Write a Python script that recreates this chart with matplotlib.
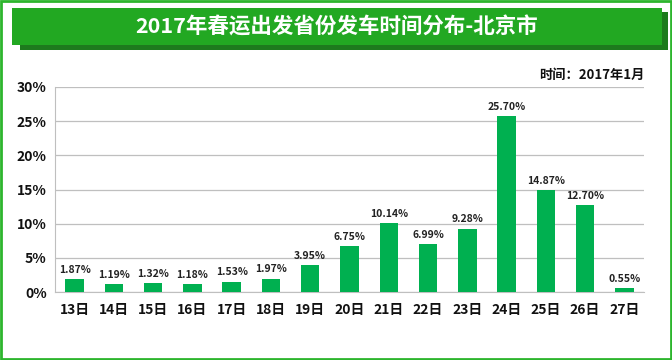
import matplotlib.pyplot as plt
from matplotlib.patches import Rectangle
from matplotlib.ticker import FuncFormatter

plt.rcParams['font.family'] = ['Noto Sans CJK SC', 'DejaVu Sans']

days = ['13日', '14日', '15日', '16日', '17日', '18日', '19日', '20日',
        '21日', '22日', '23日', '24日', '25日', '26日', '27日']
share = [1.87, 1.19, 1.32, 1.18, 1.53, 1.97, 3.95, 6.75,
         10.14, 6.99, 9.28, 25.70, 14.87, 12.70, 0.55]

fig = plt.figure(figsize=(6.72, 3.6), dpi=100)

# outer green frame
fig.patches.append(Rectangle((0.002, 0.003), 0.996, 0.994, transform=fig.transFigure,
                             fill=False, edgecolor='#2DB52D', linewidth=2))

# title banner with shadow
fig.patches.append(Rectangle((20 / 672, 1 - 50 / 360), 648 / 672, 38 / 360,
                             transform=fig.transFigure, facecolor='#1D7A1D', edgecolor='none'))
fig.patches.append(Rectangle((12 / 672, 1 - 45 / 360), 650 / 672, 37 / 360,
                             transform=fig.transFigure, facecolor='#22A822', edgecolor='none'))
fig.text(337 / 672, 1 - 27 / 360, '2017年春运出发省份发车时间分布-北京市', color='white',
         fontsize=15.5, fontweight='bold', ha='center', va='center')

ax = fig.add_axes([55 / 672, 68 / 360, 589 / 672, 205 / 360])
x = range(len(days))
ax.bar(x, share, width=0.47, color='#00B050', zorder=3)
for i, v in zip(x, share):
    ax.text(i, v + 0.6, '%.2f%%' % v, ha='center', va='bottom',
            fontsize=7.5, fontweight='bold', color='#222222')

ax.set_xlim(-0.5, len(days) - 0.5)
ax.set_ylim(0, 30)
ax.set_yticks(range(0, 31, 5))
ax.yaxis.set_major_formatter(FuncFormatter(lambda v, p: '%d%%' % v))
ax.set_xticks(list(x))
ax.set_xticklabels(days)
ax.grid(axis='y', color='#BFBFBF', linewidth=0.9, zorder=0)
for s in ['top', 'right']:
    ax.spines[s].set_visible(False)
ax.spines['left'].set_color('#BFBFBF')
ax.spines['bottom'].set_color('#BFBFBF')
ax.tick_params(axis='both', length=0, labelsize=10, pad=8)
ax.tick_params(axis='y', pad=6)
for lab in ax.get_xticklabels() + ax.get_yticklabels():
    lab.set_fontweight('bold')
    lab.set_color('#111111')

fig.text(644 / 672, 1 - 75 / 360, '时间：2017年1月', ha='right', va='center',
         fontsize=9.5, fontweight='bold', color='#111111')

fig.savefig('out.png', dpi=100)
